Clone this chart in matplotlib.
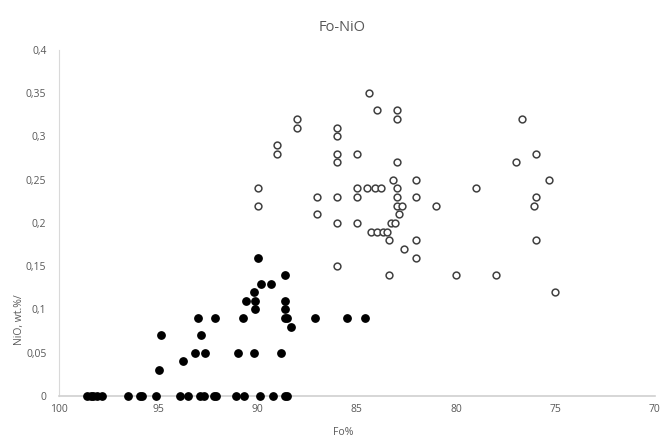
import matplotlib
matplotlib.use("Agg")
import matplotlib.pyplot as plt
from matplotlib.ticker import FuncFormatter

# Open circles (Fo%, NiO wt.%)
open_fo = [84.4, 84.0, 83.0, 83.0, 88.0, 88.0, 76.7, 86.0, 86.0, 89.0, 89.0,
           86.0, 86.0, 85.0, 83.0, 77.0, 76.0, 75.3, 90.0, 90.0, 87.0, 87.0,
           86.0, 86.0, 86.0, 85.0, 85.0, 85.0, 84.5, 84.1, 83.8, 83.2, 83.0,
           83.0, 83.0, 82.7, 82.9, 83.3, 83.1, 84.3, 84.0, 83.7, 83.5, 83.4,
           82.6, 83.4, 82.0, 82.0, 82.0, 82.0, 81.0, 79.0, 80.0, 78.0, 76.1,
           76.0, 76.0, 75.0]
open_nio = [0.35, 0.33, 0.33, 0.32, 0.32, 0.31, 0.32, 0.31, 0.30, 0.29, 0.28,
            0.28, 0.27, 0.28, 0.27, 0.27, 0.28, 0.25, 0.24, 0.22, 0.23, 0.21,
            0.23, 0.20, 0.15, 0.24, 0.23, 0.20, 0.24, 0.24, 0.24, 0.25, 0.24,
            0.23, 0.22, 0.22, 0.21, 0.20, 0.20, 0.19, 0.19, 0.19, 0.19, 0.18,
            0.17, 0.14, 0.25, 0.23, 0.18, 0.16, 0.22, 0.24, 0.14, 0.14, 0.22,
            0.23, 0.18, 0.12]

# Filled circles (Fo%, NiO wt.%)
filled_fo = [98.6, 98.4, 98.3, 98.1, 97.85, 96.5, 95.9, 95.8, 95.1, 93.9, 93.5,
             92.9, 92.7, 92.2, 92.1, 91.1, 90.7, 89.9, 89.2, 88.6, 88.5,
             94.96, 94.85, 93.74, 93.13, 92.64, 92.98, 92.87, 92.13, 91.0,
             90.74, 90.6, 90.2, 90.13, 90.13, 90.17, 90.0, 89.8, 89.34, 88.8,
             88.64, 88.6, 88.64, 88.6, 88.5, 88.3, 87.1, 85.5, 84.6]
filled_nio = [0, 0, 0, 0, 0, 0, 0, 0, 0, 0, 0,
              0, 0, 0, 0, 0, 0, 0, 0, 0, 0,
              0.03, 0.07, 0.04, 0.05, 0.05, 0.09, 0.07, 0.09, 0.05,
              0.09, 0.11, 0.12, 0.11, 0.10, 0.05, 0.16, 0.13, 0.13, 0.05,
              0.14, 0.11, 0.10, 0.09, 0.09, 0.08, 0.09, 0.09, 0.09]

x_ticks = [100, 95, 90, 85, 80, 75, 70]
y_ticks = [0, 0.05, 0.1, 0.15, 0.2, 0.25, 0.3, 0.35, 0.4]

plt.rcParams['font.family'] = ['Open Sans', 'DejaVu Sans']
fig = plt.figure(figsize=(6.62, 4.41), dpi=100)
ax = fig.add_axes([0.089, 0.102, 0.9, 0.785])

ax.scatter(open_fo, open_nio, s=24, facecolors='white', edgecolors='#404040',
           linewidths=1.1, zorder=3, clip_on=False)
ax.scatter(filled_fo, filled_nio, s=28, color='black', zorder=4, clip_on=False)

ax.set_xlim(100, 70)
ax.set_ylim(0, 0.4)
ax.set_xticks(x_ticks)
ax.set_yticks(y_ticks)
fmt = FuncFormatter(lambda v, p: ('%g' % v).replace('.', ','))
ax.xaxis.set_major_formatter(fmt)
ax.yaxis.set_major_formatter(fmt)
ax.tick_params(length=0, labelsize=7.5, colors='#595959')
ax.tick_params(axis='y', pad=9)
ax.tick_params(axis='x', pad=6)
for s in ['top', 'right']:
    ax.spines[s].set_visible(False)
ax.spines['left'].set_color('#d9d9d9')
ax.spines['bottom'].set_color('#d0d0d0')
ax.spines['bottom'].set_linewidth(1.2)

fig.text(0.517, 0.938, 'Fo-NiO', ha='center', va='center', fontsize=10.5, color='#595959')
fig.text(0.518, 0.02, 'Fo%', ha='center', va='center', fontsize=7.5, color='#595959')
fig.text(0.03, 0.275, 'NiO, wt.%/', ha='center', va='center', rotation=90,
         fontsize=7.5, color='#595959')

fig.savefig('out.png', dpi=100)
